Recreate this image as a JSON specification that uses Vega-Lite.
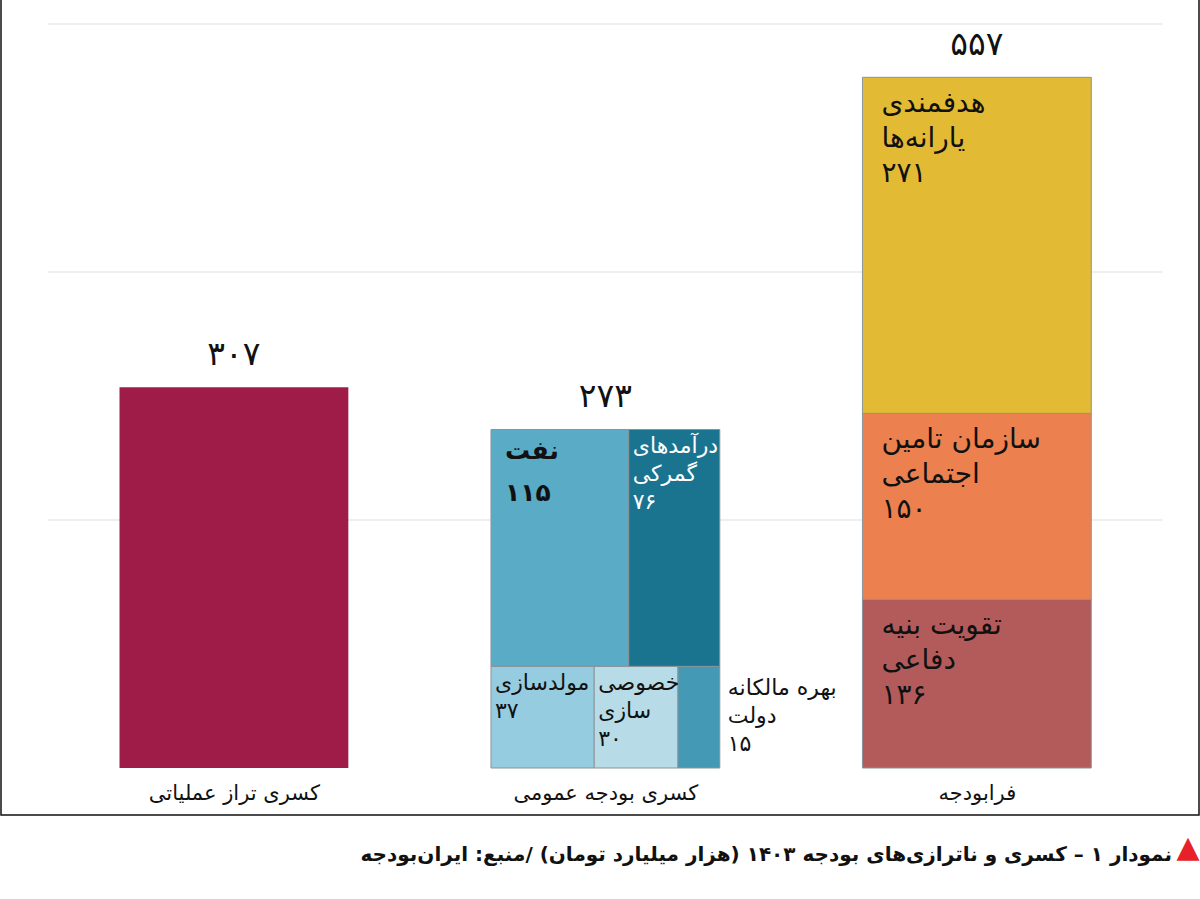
{
  "$schema": "https://vega.github.io/schema/vega-lite/v6.json",
  "autosize": {"type": "none"},
  "width": 1198,
  "height": 817,
  "padding": {"left": 1, "right": 1, "top": -2, "bottom": 84},
  "background": "white",
  "config": {
    "view": {"stroke": "#111111", "strokeWidth": 1.5},
    "font": "DejaVu Sans",
    "axisX": {"orient": "bottom", "offset": -33, "domain": false, "ticks": false, "grid": false, "labelPadding": 0, "labelFontSize": 21, "labelLimit": 400, "labelFont": "DejaVu Sans", "labelColor": "#111111", "labelOverlap": false, "labelFlush": false, "labelBound": false,
      "titleColor": "#e8202a", "titleFont": "DejaVu Sans", "titleFontSize": 30, "titleFontWeight": "normal", "titleAnchor": "end", "titleAlign": "right", "titleBaseline": "top", "titlePadding": 29},
    "locale": {"number": {"decimal": "٫", "thousands": "٬", "grouping": [3], "currency": ["", ""], "numerals": ["۰","۱","۲","۳","۴","۵","۶","۷","۸","۹"]}}
  },
  "title": {
    "text": "نمودار ۱ – کسری و ناترازی‌های بودجه ۱۴۰۳ (هزار میلیارد تومان) /منبع: ایران‌بودجه",
    "orient": "bottom",
    "anchor": "end",
    "offset": -17,
    "dx": -27,
    "color": "#111111",
    "fontSize": 20,
    "fontWeight": "bold",
    "font": "DejaVu Sans"
  },
  "datasets": {
    "items": [
      {"group": "کسری تراز عملیاتی", "g": 0, "row": 1, "ord": 1, "item": "کسری تراز عملیاتی", "label": "", "value": 307},
      {"group": "کسری بودجه عمومی", "g": 1, "row": 1, "ord": 1, "item": "مولدسازی", "label": "مولدسازی", "value": 37},
      {"group": "کسری بودجه عمومی", "g": 1, "row": 1, "ord": 2, "item": "خصوصی سازی", "label": "خصوصی\nسازی", "value": 30},
      {"group": "کسری بودجه عمومی", "g": 1, "row": 1, "ord": 3, "item": "بهره مالکانه دولت", "label": "بهره مالکانه\nدولت", "value": 15},
      {"group": "کسری بودجه عمومی", "g": 1, "row": 2, "ord": 1, "item": "نفت", "label": "نفت", "value": 115},
      {"group": "کسری بودجه عمومی", "g": 1, "row": 2, "ord": 2, "item": "درآمدهای گمرکی", "label": "درآمدهای\nگمرکی", "value": 76},
      {"group": "فرابودجه", "g": 2, "row": 1, "ord": 1, "item": "تقویت بنیه دفاعی", "label": "تقویت بنیه\nدفاعی", "value": 136},
      {"group": "فرابودجه", "g": 2, "row": 2, "ord": 1, "item": "سازمان تامین اجتماعی", "label": "سازمان تامین\nاجتماعی", "value": 150},
      {"group": "فرابودجه", "g": 2, "row": 3, "ord": 1, "item": "هدفمندی یارانه‌ها", "label": "هدفمندی\nیارانه‌ها", "value": 271}
    ],
    "grid": [{"v": 200}, {"v": 400}, {"v": 600}]
  },
  "layer": [
    {
      "data": {"name": "grid"},
      "mark": {"type": "rule", "color": "#e8e8e8", "strokeWidth": 1.5},
      "encoding": {
        "x": {"datum": -0.5, "type": "quantitative", "scale": {"domain": [-0.627, 2.598], "nice": false, "zero": false},
          "axis": {"values": [0, 1, 2], "title": "▲", "labelExpr": "datum.value == 0 ? 'کسری تراز عملیاتی' : datum.value == 1 ? 'کسری بودجه عمومی' : 'فرابودجه'"}},
        "x2": {"datum": 2.5},
        "y": {"field": "v", "type": "quantitative", "scale": {"domain": [-37.9, 620.97], "nice": false, "zero": false}, "axis": null}
      }
    },
    {
      "data": {"name": "items"},
      "transform": [
        {"joinaggregate": [{"op": "sum", "field": "value", "as": "rowTotal"}], "groupby": ["group", "row"]},
        {"stack": "value", "groupby": ["group", "row"], "sort": [{"field": "ord", "order": "ascending"}], "offset": "normalize", "as": ["f0", "f1"]},
        {"window": [{"op": "sum", "field": "value", "as": "rowTop"}], "groupby": ["group"], "sort": [{"field": "row", "order": "ascending"}], "frame": [null, 0], "ignorePeers": false},
        {"calculate": "datum.g - 0.308 + 0.616 * datum.f0", "as": "xl"},
        {"calculate": "datum.g - 0.308 + 0.616 * datum.f1", "as": "xr"},
        {"calculate": "datum.rowTop - datum.rowTotal", "as": "yb"},
        {"calculate": "datum.label + '\\n' + format(datum.value, 'd')", "as": "txt"}
      ],
      "layer": [
        {
          "mark": {"type": "rect", "strokeWidth": 1},
          "encoding": {
            "x": {"field": "xl", "type": "quantitative", "scale": {"domain": [-0.627, 2.598], "nice": false, "zero": false},
              "axis": {"values": [0, 1, 2], "title": "▲", "labelExpr": "datum.value == 0 ? 'کسری تراز عملیاتی' : datum.value == 1 ? 'کسری بودجه عمومی' : 'فرابودجه'"}},
            "x2": {"field": "xr"},
            "y": {"field": "yb", "type": "quantitative", "scale": {"domain": [-37.9, 620.97], "nice": false, "zero": false}, "axis": null},
            "y2": {"field": "rowTop"},
            "color": {"field": "item", "type": "nominal", "legend": null,
              "scale": {"domain": ["کسری تراز عملیاتی", "مولدسازی", "خصوصی سازی", "بهره مالکانه دولت", "نفت", "درآمدهای گمرکی", "تقویت بنیه دفاعی", "سازمان تامین اجتماعی", "هدفمندی یارانه‌ها"],
                "range": ["#a01c48", "#96cce0", "#b7dce7", "#4499b5", "#5aabc5", "#1a7490", "#b35b5a", "#ec804e", "#e3ba34"]}},
            "stroke": {"condition": {"test": "datum.g == 0", "value": "transparent"}, "value": "#8a9399"}
          }
        },
        {
          "transform": [{"filter": "datum.g == 2"}],
          "mark": {"type": "text", "align": "left", "baseline": "top", "dx": 19, "dy": 13, "fontSize": 28, "lineHeight": 35, "lineBreak": "\n", "color": "#111111", "font": "DejaVu Sans"},
          "encoding": {
            "x": {"field": "xl", "type": "quantitative",
              "axis": {"values": [0, 1, 2], "title": "▲", "labelExpr": "datum.value == 0 ? 'کسری تراز عملیاتی' : datum.value == 1 ? 'کسری بودجه عمومی' : 'فرابودجه'"}},
            "y": {"field": "rowTop", "type": "quantitative", "axis": null},
            "text": {"field": "txt"}
          }
        },
        {
          "transform": [{"filter": "datum.item == 'نفت'"}],
          "mark": {"type": "text", "align": "left", "baseline": "top", "dx": 14, "dy": 10, "fontSize": 25, "fontWeight": "bold", "lineHeight": 42, "lineBreak": "\n", "color": "#111111", "font": "DejaVu Sans"},
          "encoding": {
            "x": {"field": "xl", "type": "quantitative",
              "axis": {"values": [0, 1, 2], "title": "▲", "labelExpr": "datum.value == 0 ? 'کسری تراز عملیاتی' : datum.value == 1 ? 'کسری بودجه عمومی' : 'فرابودجه'"}},
            "y": {"field": "rowTop", "type": "quantitative", "axis": null},
            "text": {"field": "txt"}
          }
        },
        {
          "transform": [{"filter": "datum.g == 1 && datum.item != 'نفت' && datum.item != 'بهره مالکانه دولت'"}],
          "mark": {"type": "text", "align": "left", "baseline": "top", "dx": 4, "dy": 7, "fontSize": 22, "lineHeight": 28, "lineBreak": "\n", "font": "DejaVu Sans"},
          "encoding": {
            "x": {"field": "xl", "type": "quantitative",
              "axis": {"values": [0, 1, 2], "title": "▲", "labelExpr": "datum.value == 0 ? 'کسری تراز عملیاتی' : datum.value == 1 ? 'کسری بودجه عمومی' : 'فرابودجه'"}},
            "y": {"field": "rowTop", "type": "quantitative", "axis": null},
            "text": {"field": "txt"},
            "color": {"condition": {"test": "datum.item == 'درآمدهای گمرکی'", "value": "white"}, "value": "#111111"}
          }
        },
        {
          "transform": [{"filter": "datum.item == 'بهره مالکانه دولت'"}],
          "mark": {"type": "text", "align": "left", "baseline": "top", "dx": 8, "dy": 12, "fontSize": 22, "lineHeight": 28, "lineBreak": "\n", "color": "#111111", "font": "DejaVu Sans"},
          "encoding": {
            "x": {"field": "xr", "type": "quantitative",
              "axis": {"values": [0, 1, 2], "title": "▲", "labelExpr": "datum.value == 0 ? 'کسری تراز عملیاتی' : datum.value == 1 ? 'کسری بودجه عمومی' : 'فرابودجه'"}},
            "y": {"field": "rowTop", "type": "quantitative", "axis": null},
            "text": {"field": "txt"}
          }
        },
        {
          "transform": [{"aggregate": [{"op": "sum", "field": "value", "as": "total"}], "groupby": ["group", "g"]}],
          "mark": {"type": "text", "align": "center", "baseline": "middle", "dy": -32, "fontSize": 33, "color": "#111111", "font": "DejaVu Sans"},
          "encoding": {
            "x": {"field": "g", "type": "quantitative",
              "axis": {"values": [0, 1, 2], "title": "▲", "labelExpr": "datum.value == 0 ? 'کسری تراز عملیاتی' : datum.value == 1 ? 'کسری بودجه عمومی' : 'فرابودجه'"}},
            "y": {"field": "total", "type": "quantitative", "axis": null},
            "text": {"field": "total", "type": "quantitative", "format": "d"}
          }
        }
      ]
    },
    {
      "mark": {"type": "rule", "color": "#9a9a9a", "strokeWidth": 2},
      "encoding": {
        "x": {"datum": -0.5, "type": "quantitative",
          "axis": {"values": [0, 1, 2], "title": "▲", "labelExpr": "datum.value == 0 ? 'کسری تراز عملیاتی' : datum.value == 1 ? 'کسری بودجه عمومی' : 'فرابودجه'"}},
        "x2": {"datum": 2.5},
        "y": {"datum": 0, "type": "quantitative", "axis": null}
      }
    }
  ]
}
